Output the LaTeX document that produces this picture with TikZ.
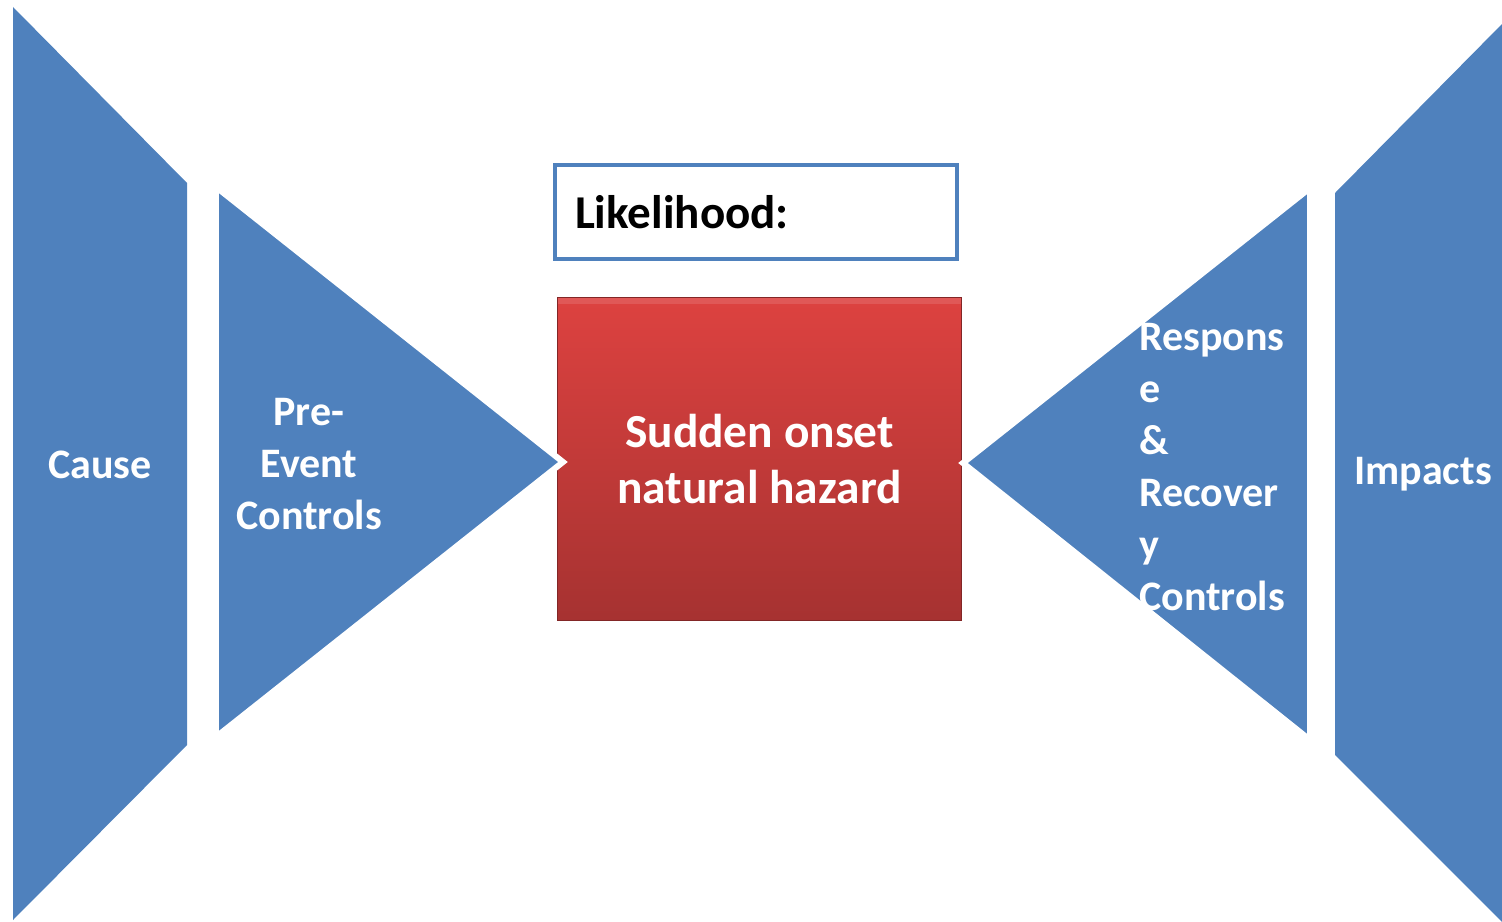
\documentclass[tikz,border=0pt]{standalone}
\usepackage{fontspec}
\setmainfont{Carlito}

\definecolor{barblue}{RGB}{79,129,189}
\definecolor{hazardtop}{RGB}{221,66,64}
\definecolor{hazardbot}{RGB}{166,50,49}
\definecolor{hazardedge}{RGB}{130,38,38}

\begin{document}
\begin{tikzpicture}[x=0.02cm,y=-0.02cm]
                            \useasboundingbox (0,0) rectangle (1502,922);
                            % outer bars
                            \fill[barblue] (13,7) -- (187,183) -- (187,745) -- (13,920) -- cycle;
                            \fill[barblue] (1502,24) -- (1335,193) -- (1335,755) -- (1502,922) -- cycle;
                            % the event
                            \node[minimum width=8.1cm,minimum height=6.48cm,top color=hazardtop,bottom color=hazardbot,
                                  draw=hazardedge,line width=0.6pt,text=white,align=center,
                                  font=\bfseries\fontsize{27}{32.3}\selectfont,
                                  path picture={\fill[white,opacity=.12] (path picture bounding box.north west) rectangle ([yshift=-4pt]path picture bounding box.north east);}]
                                  (hazard) at (759.5,459) {Sudden onset\\natural hazard};
                            \node[draw=barblue,line width=2.3pt,minimum width=8.04cm,minimum height=1.88cm,
                                  inner xsep=0.4cm,text width=7.24cm,align=left,
                                  font=\bfseries\fontsize{26.8}{32.3}\selectfont]
                                  (likelihood) at (756,212) {Likelihood:};
                            % controls either side
                            \begin{scope}[every path/.style={fill=barblue,draw=white,line width=3.4pt,line join=miter}]
                                \path (216,187) -- (563,462) -- (216,737) -- cycle;
                                \path (1310,188) -- (963,463) -- (1310,740) -- cycle;
                            \end{scope}
                            \begin{scope}[every node/.style={text=white,inner sep=0pt,align=center,font=\bfseries\fontsize{23.9}{29.5}\selectfont}]
                                \node (cause) at (100,465) {Cause};
                                \node (pre) at (309,464) {Pre-\\Event\\Controls};
                                \node[anchor=west,align=left] (post) at (1139,467) {Respons\\e\\\&\\Recover\\y\\Controls};
                                \node (impacts) at (1423,474) {Impacts};
                            \end{scope}
                        \end{tikzpicture}
\end{document}
